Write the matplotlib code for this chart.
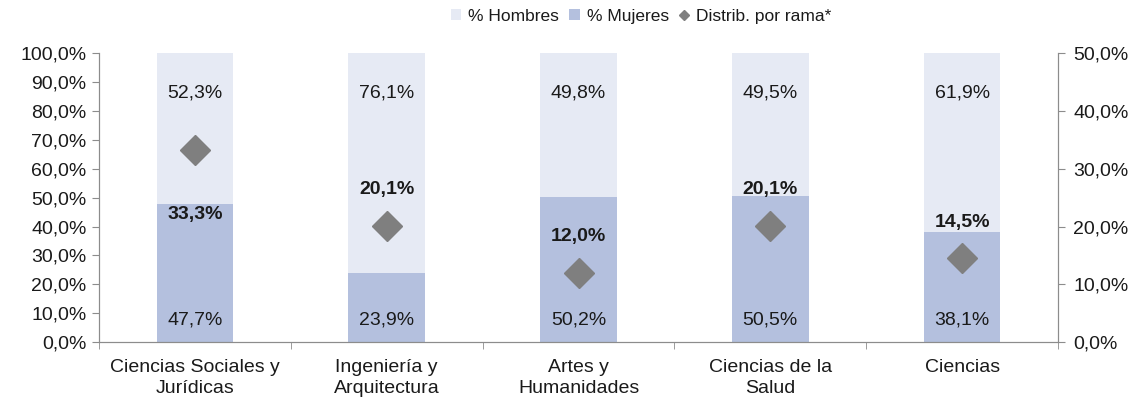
import numpy as np
import matplotlib.pyplot as plt
from matplotlib.ticker import FuncFormatter

plt.rcParams['font.family'] = ['Liberation Sans', 'DejaVu Sans']

# Datos
ramas = ['Ciencias Sociales y\nJurídicas', 'Ingeniería y\nArquitectura', 'Artes y\nHumanidades',
         'Ciencias de la\nSalud', 'Ciencias']
hombres = [52.3, 76.1, 49.8, 49.5, 61.9]
mujeres = [47.7, 23.9, 50.2, 50.5, 38.1]
distrib = [33.3, 20.1, 12.0, 20.1, 14.5]

col_h = '#E6EAF4'
col_m = '#B4C0DE'
col_d = '#7F7F7F'
col_eje = '#8C8C8C'
col_txt = '#1A1A1A'
fs = 14

def pct(v, pos=None):
    return f'{v:.1f}%'.replace('.', ',')

fig = plt.figure(figsize=(11.45, 4.03), dpi=100)
ax = fig.add_axes([0.0865, 0.151, 0.8375, 0.717])
ax2 = ax.twinx()

x = np.arange(len(ramas))
ax.bar(x, mujeres, width=0.4, color=col_m, label='% Mujeres', zorder=2)
ax.bar(x, hombres, width=0.4, bottom=mujeres, color=col_h, label='% Hombres', zorder=2)

for xi, h, m in zip(x, hombres, mujeres):
    ax.annotate(pct(h), (xi, 100), xytext=(0, -29), textcoords='offset points',
                ha='center', va='center', fontsize=fs, color=col_txt)
    ax.annotate(pct(m), (xi, 0), xytext=(0, 16), textcoords='offset points',
                ha='center', va='center', fontsize=fs, color=col_txt)

ax2.plot(x, distrib, linestyle='none', marker='D', markersize=15, color=col_d,
         label='Distrib. por rama*', zorder=3)
for i, (xi, d) in enumerate(zip(x, distrib)):
    dy = -47 if i == 0 else 26
    ax2.annotate(pct(d), (xi, d), xytext=(0, dy), textcoords='offset points',
                 ha='center', va='center', fontsize=fs, color=col_txt, fontweight='bold')

ax.set_xlim(-0.5, len(ramas) - 0.5)
ax.set_ylim(0, 100)
ax2.set_ylim(0, 50)
ax.set_yticks(np.arange(0, 101, 10))
ax2.set_yticks(np.arange(0, 51, 10))
ax.yaxis.set_major_formatter(FuncFormatter(pct))
ax2.yaxis.set_major_formatter(FuncFormatter(pct))

ax.set_xticks(x)
ax.set_xticklabels(ramas, fontsize=fs, color=col_txt, linespacing=1.3)
ax.set_xticks(np.arange(-0.5, len(ramas), 1), minor=True)
ax.tick_params(axis='x', which='major', length=0, pad=12)
ax.tick_params(axis='x', which='minor', length=5, color=col_eje)

ax.tick_params(axis='y', labelsize=fs, labelcolor=col_txt, color=col_eje, length=5, pad=4)
ax2.tick_params(axis='y', labelsize=fs, labelcolor=col_txt, color=col_eje, length=5, pad=6)

for a in (ax, ax2):
    a.spines['top'].set_visible(False)
    for s in ('left', 'right', 'bottom'):
        a.spines[s].set_color(col_eje)

h_bar, l_bar = ax.get_legend_handles_labels()
h_pt, l_pt = ax2.get_legend_handles_labels()
handles = [h_bar[1], h_bar[0], h_pt[0]]
labels = [l_bar[1], l_bar[0], l_pt[0]]
leg = fig.legend(handles, labels, loc='center', bbox_to_anchor=(0.56, 0.96), ncol=3,
                 frameon=False, fontsize=12.5, handlelength=0.6, handleheight=0.6,
                 handletextpad=0.4, columnspacing=0.6, markerscale=0.35)
for t in leg.get_texts():
    t.set_color(col_txt)

fig.savefig('out.png', dpi=100)
